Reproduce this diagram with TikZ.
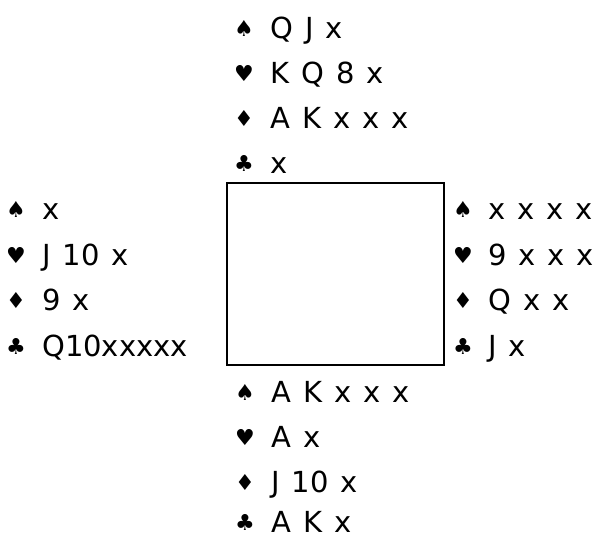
\documentclass[tikz,border=0pt]{standalone}
\usepackage{fontspec}
\setmainfont[WordSpace=1.3]{DejaVu Sans}
\begin{document}
\begin{tikzpicture}[x=1pt,y=-1pt,
  suit/.style={anchor=base, inner sep=0pt, yshift=2pt, font=\fontsize{22pt}{22pt}\selectfont},
  cards/.style={anchor=base west, inner sep=0pt, font=\fontsize{29pt}{30pt}\selectfont},
  table/.style={draw, line width=2pt, minimum width=217pt, minimum height=182pt, inner sep=0pt}]
\useasboundingbox (0,0) rectangle (594,538);
\node[table] (tbl) at (335.5,274) {};
% North
\node[suit] (ns1) at (244,38) {♠};  \node[cards] (n1) at (270,38) {Q J x};
\node[suit] (ns2) at (244,83) {♥};  \node[cards] (n2) at (270,83) {K Q 8 x};
\node[suit] (ns3) at (244,128) {♦}; \node[cards] (n3) at (270,128) {A K x x x};
\node[suit] (ns4) at (244,173) {♣}; \node[cards] (n4) at (270,173) {x};
% West
\node[suit] (ws1) at (16,219) {♠};  \node[cards] (w1) at (42,219) {x};
\node[suit] (ws2) at (16,265) {♥};  \node[cards] (w2) at (42,265) {J 10 x};
\node[suit] (ws3) at (16,310) {♦};  \node[cards] (w3) at (42,310) {9 x};
\node[suit] (ws4) at (16,356) {♣};  \node[cards] (w4) at (42,356) {Q10xxxxx};
% East
\node[suit] (es1) at (463,219) {♠}; \node[cards] (e1) at (488,219) {x x x x};
\node[suit] (es2) at (463,265) {♥}; \node[cards] (e2) at (488,265) {9 x x x};
\node[suit] (es3) at (463,310) {♦}; \node[cards] (e3) at (488,310) {Q x x};
\node[suit] (es4) at (463,356) {♣}; \node[cards] (e4) at (488,356) {J x};
% South
\node[suit] (ss1) at (245,402) {♠}; \node[cards] (s1) at (271,402) {A K x x x};
\node[suit] (ss2) at (245,447) {♥}; \node[cards] (s2) at (271,447) {A x};
\node[suit] (ss3) at (245,492) {♦}; \node[cards] (s3) at (271,492) {J 10 x};
\node[suit] (ss4) at (245,532) {♣}; \node[cards] (s4) at (271,532) {A K x};
\end{tikzpicture}
\end{document}
